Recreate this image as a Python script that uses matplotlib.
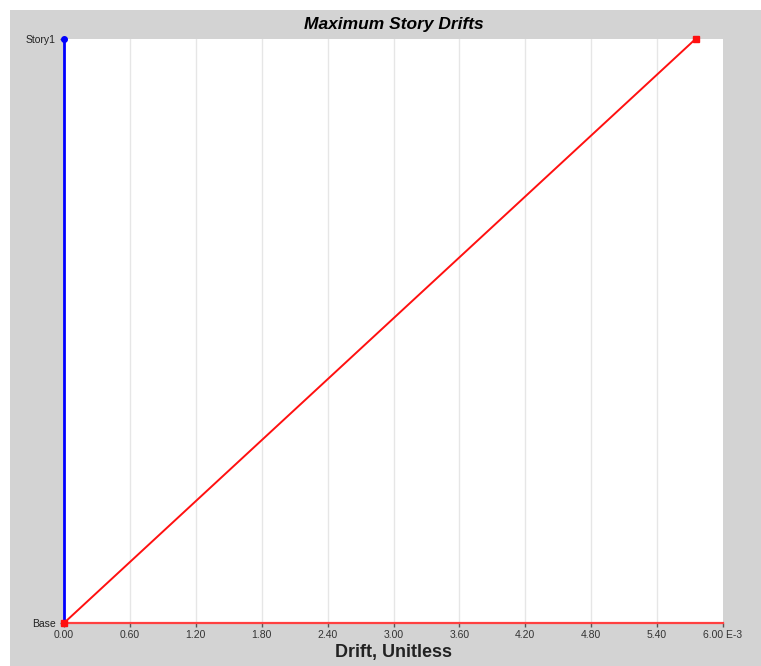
import numpy as np
import matplotlib.pyplot as plt
from matplotlib.patches import Rectangle

plt.rcParams['font.family'] = 'Liberation Sans'

stories = ['Base', 'Story1']
levels = [0, 1]
drift_x = [0.0, 0.0]      # E-3, blue series
drift_y = [0.0, 5.75]     # E-3, red series
xticks = [0.0, 0.6, 1.2, 1.8, 2.4, 3.0, 3.6, 4.2, 4.8, 5.4, 6.0]
xtick_labels = ['%.2f' % t for t in xticks]
xtick_labels[-1] = '6.00 E-3'

W, H = 761, 666
fig = plt.figure(figsize=(W / 100, H / 100), dpi=100)
fig.patch.set_facecolor('white')
fig.patches.append(Rectangle((10 / W, 0), 1 - 10 / W, 1 - 10 / H, transform=fig.transFigure,
                             facecolor='#d3d3d3', edgecolor='none', zorder=-10))

ax = fig.add_axes([64 / W, 43 / H, 659 / W, 584 / H])
ax.set_facecolor('white')

for t in xticks[1:-1]:
    ax.axvline(t, color='#e6e6e6', lw=1.0, zorder=1)

ax.plot(drift_x, levels, color='#0000ff', lw=2, marker='o', ms=4, zorder=4, clip_on=False)
ax.plot(drift_y, levels, color='#ff1010', lw=1.4, marker='s', ms=4, zorder=5, clip_on=False)

ax.set_xlim(0, 6.0)
ax.set_ylim(0, 1)
ax.set_xticks(xticks)
ax.set_xticklabels(xtick_labels, fontsize=7.5, color='#333333')
ax.set_yticks(levels)
ax.set_yticklabels(stories, fontsize=7.5, color='#222222')
ax.tick_params(axis='x', length=3, width=1, color='#555555', pad=2)
ax.tick_params(axis='y', length=3, width=1, color='#555555', pad=3)

for s in ['top', 'right', 'left']:
    ax.spines[s].set_visible(False)
ax.spines['bottom'].set_color('#ff4040')
ax.spines['bottom'].set_linewidth(1.6)

ax.set_title('Maximum Story Drifts', fontsize=12.5, fontweight='bold', style='italic', pad=7)
ax.set_xlabel('Drift, Unitless', fontsize=13, fontweight='bold', color='#222222', labelpad=3)

plt.savefig('out.png', dpi=100)
